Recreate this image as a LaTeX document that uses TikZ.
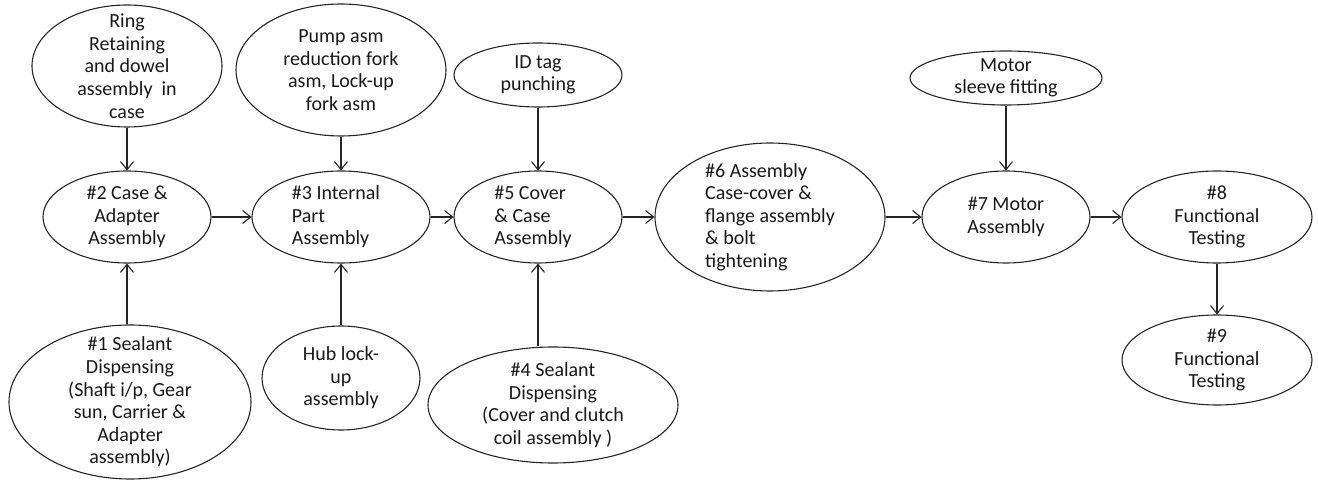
\documentclass[tikz,border=0pt]{standalone}
\usepackage{fontspec}
\setmainfont{Carlito}
\usetikzlibrary{shapes.geometric,arrows.meta}

\begin{document}
\begin{tikzpicture}[x=0.5pt,y=-0.5pt,
  stage/.style={ellipse, draw=black!85, line width=0.55pt, inner sep=0pt},
  txt/.style={align=center, inner sep=0pt, font=\fontsize{10}{11.3}\selectfont, text=black!90},
  arr/.style={draw=black!85, line width=0.55pt, -{Straight Barb[length=4pt,width=6.5pt]}}]
\useasboundingbox (0,0) rectangle (1318,480);

% ellipses
\node[stage, minimum width=95pt, minimum height=61pt] (ring) at (127,66) {};
\node[stage, minimum width=105pt, minimum height=66pt] (pump) at (341,70) {};
\node[stage, minimum width=84pt, minimum height=32pt] (idtag) at (538,75) {};
\node[stage, minimum width=96pt, minimum height=27pt] (sleeve) at (1006,78) {};
\node[stage, minimum width=84pt, minimum height=46pt] (s2) at (127,217) {};
\node[stage, minimum width=89pt, minimum height=46pt] (s3) at (341,217) {};
\node[stage, minimum width=84pt, minimum height=46pt] (s5) at (538,217) {};
\node[stage, minimum width=115pt, minimum height=74pt] (s6) at (770,217) {};
\node[stage, minimum width=84pt, minimum height=46pt] (s7) at (1006,217) {};
\node[stage, minimum width=95pt, minimum height=46pt] (s8) at (1217,217) {};
\node[stage, minimum width=95pt, minimum height=45pt] (s9) at (1217,360) {};
\node[stage, minimum width=121pt, minimum height=77pt] (s1) at (130,402) {};
\node[stage, minimum width=79pt, minimum height=52pt] (hub) at (341,378) {};
\node[stage, minimum width=125pt, minimum height=58pt] (s4) at (553,405) {};

% texts
\node[txt] (ringt) at (ring) {Ring\\Retaining\\and dowel\\assembly\ \ in\\case};
\node[txt] (pumpt) at (pump) {Pump asm\\reduction fork\\asm, Lock-up\\fork asm};
\node[txt] (idtagt) at (idtag) {ID tag\\punching};
\node[txt] (sleevet) at (sleeve) {Motor\\sleeve fitting};
\node[txt] (s2t) at (s2) {\#2 Case \&\\Adapter\\Assembly};
\node[txt, align=left, xshift=-2.5pt] (s3t) at (s3) {\#3 Internal\\Part\\Assembly};
\node[txt, align=left, xshift=-2.5pt] (s5t) at (s5) {\#5 Cover\\\& Case\\Assembly};
\node[txt, align=left] (s6t) at (s6) {\#6 Assembly\\Case-cover \&\\flange assembly\\\& bolt\\tightening};
\node[txt] (s7t) at (s7) {\#7 Motor\\Assembly};
\node[txt] (s8t) at (s8) {\#8\\Functional\\Testing};
\node[txt] (s9t) at (s9) {\#9\\Functional\\Testing};
\node[txt] (s1t) at (s1) {\#1 Sealant\\Dispensing\\(Shaft i/p, Gear\\sun, Carrier \&\\Adapter\\assembly)};
\node[txt] (hubt) at (hub) {Hub lock-\\up\\assembly};
\node[txt] (s4t) at (s4) {\#4 Sealant\\Dispensing\\(Cover and clutch\\coil assembly )};

% arrows
\draw[arr] (ring) -- (s2);
\draw[arr] (pump) -- (s3);
\draw[arr] (idtag) -- (s5);
\draw[arr] (sleeve) -- (s7);
\draw[arr] (s2 |- s1.north) -- (s2);
\draw[arr] (hub) -- (s3);
\draw[arr] (s5 |- s4.north) -- (s5);
\draw[arr] (s2) -- (s3);
\draw[arr] (s3) -- (s5);
\draw[arr] (s5) -- (s6);
\draw[arr] (s6) -- (s7);
\draw[arr] (s7) -- (s8);
\draw[arr] (s8) -- (s9);
\end{tikzpicture}
\end{document}
